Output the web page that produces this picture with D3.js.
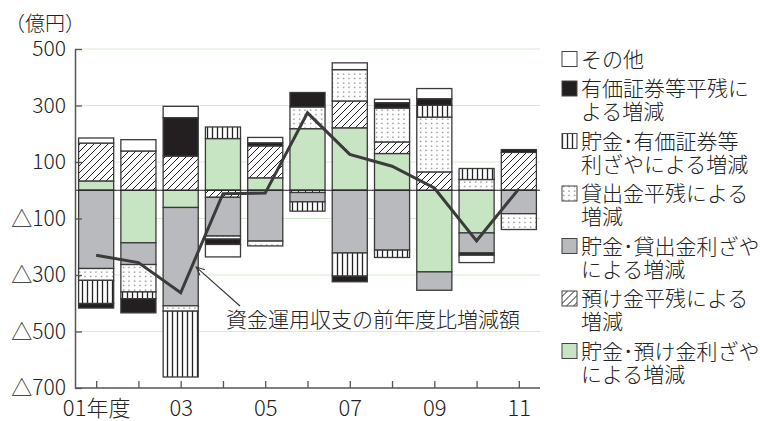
<!DOCTYPE html>
<html>
<head>
<meta charset="utf-8">
<script src="https://cdn.jsdelivr.net/npm/d3@7"></script>
<style>
  html, body { margin: 0; padding: 0; background: #fff; }
  svg { display: block; font-family: "Noto Sans CJK JP", "Noto Sans", sans-serif; font-weight: 300; }
</style>
</head>
<body>
<svg id="chart" width="760" height="421"></svg>
<script>
// 年度 (fiscal years 2001–2011)
const years = ["01", "02", "03", "04", "05", "06", "07", "08", "09", "10", "11"];
const yearLabels = ["01年度", "", "03", "", "05", "", "07", "", "09", "", "11"];

// 要因別の増減（億円）
const depositMargin  = [33, -186, -61, 183, 44, 218, 221, 130, -289, -151, 0];      // 貯金・預け金利ざや
const depositBalance = [134, 139, 121, -25, 113, -8, 95, 41, 65, 0, 134];           // 預け金平残
const loanMargin     = [-277, -77, -348, -137, -180, -33, -222, -212, -65, -71, -83]; // 貯金・貸出金利ざや
const loanBalance    = [-42, -97, -19, -11, -17, 77, 111, 120, 194, 38, -56];        // 貸出金平残
const secMargin      = [-82, -24, -233, 41, 0, -33, -82, -26, 42, 39, 0];            // 貯金・有価証券等利ざや
const secBalance     = [-16, -50, 136, -19, 11, 51, -20, 19, 23, -8, 10];            // 有価証券等平残
const other          = [18, 40, 40, -44, 19, 0, 24, 12, 36, -26, 0];                 // その他

// 資金運用収支の前年度比増減額
const netChange = [-230, -256, -363, -12, -10, 274, 127, 85, 8, -179, 5];

const yTicks = [500, 300, 100, -100, -300, -500, -700];
const gridValues = [500, 300, 100, -100, -300, -500];

const seriesKeys = ["depositMargin", "depositBalance", "loanMargin", "loanBalance", "secMargin", "secBalance", "other"];
const seriesLabels = {
  other: ["その他"],
  secBalance: ["有価証券等平残に", "よる増減"],
  secMargin: ["貯金･有価証券等", "利ざやによる増減"],
  loanBalance: ["貸出金平残による", "増減"],
  loanMargin: ["貯金･貸出金利ざや", "による増減"],
  depositBalance: ["預け金平残による", "増減"],
  depositMargin: ["貯金･預け金利ざや", "による増減"]
};
const seriesValues = { depositMargin, depositBalance, loanMargin, loanBalance, secMargin, secBalance, other };

const svg = d3.select("#chart");

// fill patterns
const defs = svg.append("defs");
const hatch = defs.append("pattern").attr("id", "hatch").attr("patternUnits", "userSpaceOnUse")
  .attr("width", 7).attr("height", 7);
hatch.append("rect").attr("width", 7).attr("height", 7).attr("fill", "#fff");
hatch.append("path").attr("d", "M0,7 L7,0 M-1,1 L1,-1 M6,8 L8,6")
  .attr("stroke", "#222").attr("stroke-width", 1);

const dots = defs.append("pattern").attr("id", "dots").attr("patternUnits", "userSpaceOnUse")
  .attr("width", 5.5).attr("height", 4.5);
dots.append("rect").attr("width", 5.5).attr("height", 4.5).attr("fill", "#fff");
dots.append("rect").attr("x", 2).attr("y", 1.5).attr("width", 1.1).attr("height", 1.1).attr("fill", "#444");

const vlines = defs.append("pattern").attr("id", "vlines").attr("patternUnits", "userSpaceOnUse")
  .attr("width", 5).attr("height", 10);
vlines.append("rect").attr("width", 5).attr("height", 10).attr("fill", "#fff");
vlines.append("line").attr("x1", 2.5).attr("x2", 2.5).attr("y1", 0).attr("y2", 10)
  .attr("stroke", "#222").attr("stroke-width", 1.3);

const fills = {
  depositMargin: "#c7e5c2",
  depositBalance: "url(#hatch)",
  loanMargin: "#b9babe",
  loanBalance: "url(#dots)",
  secMargin: "url(#vlines)",
  secBalance: "#231f20",
  other: "#fff"
};

// scales
const plotLeft = 75, plotRight = 540, plotTop = 49, plotBottom = 388;
const x = d3.scalePoint().domain(years).range([plotLeft, plotRight]).padding(0.5);
const barW = x.step() * 0.83;
const y = d3.scaleLinear().domain([-700, 500]).range([plotBottom, plotTop]);

// gridlines
svg.append("g").selectAll("line").data(gridValues).join("line")
  .attr("x1", plotLeft).attr("x2", plotRight)
  .attr("y1", d => y(d)).attr("y2", d => y(d))
  .attr("stroke", "#d6ebd2").attr("stroke-width", 1);

// stacked bars
const rows = years.map((yr, i) => {
  const r = { year: yr };
  seriesKeys.forEach(k => r[k] = seriesValues[k][i]);
  return r;
});
const stacked = d3.stack().keys(seriesKeys).offset(d3.stackOffsetDiverging)(rows);

svg.append("g").selectAll("g").data(stacked).join("g")
  .attr("fill", s => fills[s.key])
  .selectAll("rect").data(s => s.filter(d => d[1] !== d[0])).join("rect")
  .attr("x", d => x(d.data.year) - barW / 2)
  .attr("width", barW)
  .attr("y", d => y(Math.max(d[0], d[1])))
  .attr("height", d => Math.abs(y(d[0]) - y(d[1])))
  .attr("stroke", "#3a3a3a").attr("stroke-width", 1.3);

// zero line
svg.append("line").attr("x1", plotLeft).attr("x2", plotRight)
  .attr("y1", y(0)).attr("y2", y(0)).attr("stroke", "#222").attr("stroke-width", 1.2);

// axes
const fmt = v => v < 0 ? "△" + (-v) : String(v);
const yAxis = svg.append("g").attr("transform", `translate(${plotLeft},0)`)
  .call(d3.axisLeft(y).tickValues(yTicks).tickFormat(fmt).tickSize(-7).tickSizeOuter(0).tickPadding(9));
yAxis.select(".domain").attr("stroke", "#555").attr("stroke-width", 1.5);
yAxis.selectAll(".tick line").attr("stroke", "#555").attr("stroke-width", 1.3);
yAxis.selectAll("text").attr("font-size", 21).attr("fill", "#222")
  .attr("font-family", "'Noto Sans CJK JP', sans-serif").attr("font-weight", 300);

const xAxis = svg.append("g").attr("transform", `translate(0,${plotBottom})`)
  .call(d3.axisBottom(x).tickFormat((d, i) => yearLabels[i]).tickSize(-7).tickSizeOuter(0));
xAxis.select(".domain").attr("stroke", "#555").attr("stroke-width", 1.5)
  .attr("d", `M${plotLeft},0H${plotRight}`);
xAxis.selectAll(".tick line").attr("stroke", "#555").attr("stroke-width", 1.3);
xAxis.selectAll("text").attr("font-size", 22).attr("fill", "#222")
  .attr("font-family", "'Noto Sans CJK JP', sans-serif").attr("font-weight", 300)
  .attr("y", 28).attr("dy", 0);

// net change line
const line = d3.line().x((d, i) => x(years[i])).y(d => y(d));
svg.append("path").datum(netChange).attr("d", line)
  .attr("fill", "none").attr("stroke", "#3b3b3b").attr("stroke-width", 3)
  .attr("stroke-linejoin", "miter");

// unit label
svg.append("text").attr("x", 5).attr("y", 31).attr("font-size", 20).attr("fill", "#222").text("（億円）");

// annotation with arrow
const noteX = 226, noteY = 327;
svg.append("text").attr("x", noteX).attr("y", noteY).attr("font-size", 21).attr("fill", "#222")
  .text("資金運用収支の前年度比増減額");
const tip = [x("03") + barW / 2 - 2, y(-272)];
const tail = [noteX + 14, noteY - 21];
const ang = Math.atan2(tail[1] - tip[1], tail[0] - tip[0]);
const headLen = 9, headAng = 0.42;
const arrow = svg.append("g").attr("stroke", "#333").attr("stroke-width", 1.1).attr("fill", "none");
arrow.append("line").attr("x1", tail[0]).attr("y1", tail[1]).attr("x2", tip[0]).attr("y2", tip[1]);
arrow.append("path").attr("d",
  `M${tip[0] + headLen * Math.cos(ang - headAng)},${tip[1] + headLen * Math.sin(ang - headAng)}` +
  `L${tip[0]},${tip[1]}` +
  `L${tip[0] + headLen * Math.cos(ang + headAng)},${tip[1] + headLen * Math.sin(ang + headAng)}`);

// legend: each entry is one text block, wrapped with tspans
const legendKeys = seriesKeys.slice().reverse();
const lineH = 23, itemGap = 6.5;
let ly = 59;
const legend = svg.append("g");
legendKeys.forEach(k => {
  const lines = seriesLabels[k];
  const g = legend.append("g").attr("transform", `translate(0,${ly})`);
  g.append("rect").attr("x", 562).attr("y", -7.5).attr("width", 15).attr("height", 15)
    .attr("fill", fills[k]).attr("stroke", "#444").attr("stroke-width", 1);
  const t = g.append("text").attr("font-size", 21).attr("fill", "#222");
  lines.forEach((s, j) => {
    t.append("tspan").attr("x", 581).attr("y", j * lineH).attr("dy", "0.36em").text(s);
  });
  ly += lines.length * lineH + itemGap;
});
</script>
</body>
</html>
